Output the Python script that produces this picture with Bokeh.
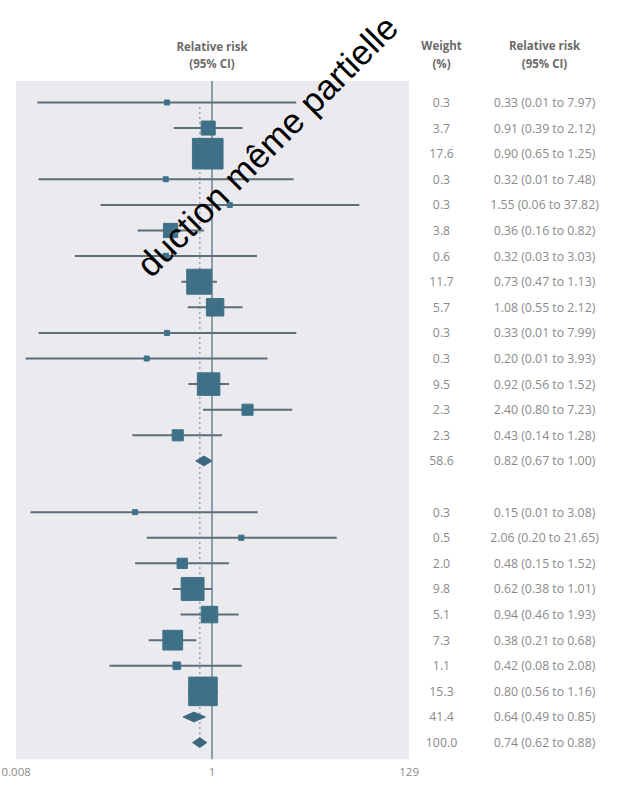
import math
from bokeh.plotting import figure
from bokeh.models import Range1d, FixedTicker, ColumnDataSource, LinearScale, CustomJSTickFormatter
from bokeh.core.properties import value
from bokeh.embed import file_html
from bokeh.resources import INLINE

# ---------------- data ----------------
group = [1] * 15 + [2] * 10
pooled = [False] * 14 + [True] + [False] * 8 + [True, True]
weights = [0.3, 3.7, 17.6, 0.3, 0.3, 3.8, 0.6, 11.7, 5.7, 0.3, 0.3, 9.5, 2.3, 2.3, 58.6,
           0.3, 0.5, 2.0, 9.8, 5.1, 7.3, 1.1, 15.3, 41.4, 100.0]
rr = [0.33, 0.91, 0.90, 0.32, 1.55, 0.36, 0.32, 0.73, 1.08, 0.33, 0.20, 0.92, 2.40, 0.43, 0.82,
      0.15, 2.06, 0.48, 0.62, 0.94, 0.38, 0.42, 0.80, 0.64, 0.74]
lo = [0.0135, 0.39, 0.65, 0.0139, 0.064, 0.16, 0.034, 0.47, 0.55, 0.0139, 0.0101, 0.56, 0.80, 0.14, 0.67,
      0.0114, 0.20, 0.15, 0.38, 0.46, 0.21, 0.08, 0.56, 0.49, 0.62]
hi = [7.97, 2.12, 1.25, 7.48, 37.82, 0.82, 3.03, 1.13, 2.12, 7.99, 3.93, 1.52, 7.23, 1.28, 1.00,
      3.08, 21.65, 1.52, 1.01, 1.93, 0.68, 2.08, 1.16, 0.85, 0.88]
x_ticks = [0.008, 1, 129]
header_plot = ["Relative risk", "(95% CI)"]
header_weight = ["Weight", "(%)"]
header_rr = ["Relative risk", "(95% CI)"]
watermark = "duction même partielle"

# ---------------- layout constants ----------------
W, H = 613, 778
BOTTOM = 15
ONE_PX = 211.5          # canvas x of RR = 1
PX_DEC = 93.4           # pixels per decade
ROW_PX = 25.74
ROW0_PX = 102.5         # canvas y of first row
FRAME_H = H - BOTTOM
PANEL_TOP_PX = 81

def slot_of_px(py):
    return (py - ROW0_PX) / ROW_PX

x_start = 10 ** (-ONE_PX / PX_DEC)
x_end = 10 ** ((W - ONE_PX) / PX_DEC)
y_top = slot_of_px(0)
y_bot = slot_of_px(FRAME_H)
panel_top = slot_of_px(PANEL_TOP_PX)

slots = [i + (g - 1) for i, g in enumerate(group)]

PANEL = "#ebebef"
BOX = "#3e7188"
CI = "#5e6e78"
TXT = "#8a8a8a"
HDR = "#6a6a6a"
FONT = "Open Sans"

p = figure(width=W, height=H, x_axis_type="log", output_backend="svg", toolbar_location=None,
           x_range=Range1d(x_start, x_end), y_range=Range1d(y_bot, y_top),
           y_axis_location=None, min_border=0, min_border_bottom=BOTTOM)
p.extra_x_ranges = {"tab": Range1d(0, W)}
p.extra_x_scales = {"tab": LinearScale()}
p.grid.visible = False
p.outline_line_color = None
p.background_fill_color = "white"
p.border_fill_color = "white"

# panel
p.quad(left=[x_ticks[0]], right=[x_ticks[-1]], top=[panel_top], bottom=[y_bot],
       fill_color=PANEL, line_color=None)

# reference line at 1
p.segment(x0=[1], x1=[1], y0=[panel_top], y1=[y_bot], line_color="#4f6878", line_width=1.2)

# dotted line at overall estimate
overall = len(rr) - 1
p.segment(x0=[rr[overall]], x1=[rr[overall]], y0=[0.18], y1=[slots[overall]],
          line_color="#93a9b6", line_width=1.5, line_dash="2 3")

# study CIs and boxes
st = [i for i in range(len(rr)) if not pooled[i]]
src = ColumnDataSource(dict(
    x=[rr[i] for i in st], y=[slots[i] for i in st],
    lo=[lo[i] for i in st], hi=[hi[i] for i in st],
    size=[max(5.0, 7.3 * math.sqrt(weights[i])) for i in st]))
p.segment(x0="lo", x1="hi", y0="y", y1="y", source=src, line_color=CI, line_width=2)
p.scatter(x="x", y="y", size="size", marker="square", source=src,
          fill_color=BOX, line_color=BOX)

# pooled diamonds
pl = [i for i in range(len(rr)) if pooled[i]]
h = 0.19
p.patches(xs=[[lo[i], rr[i], hi[i], rr[i]] for i in pl],
          ys=[[slots[i], slots[i] - h, slots[i], slots[i] + h] for i in pl],
          fill_color="#3b687f", line_color="#3b687f")

# header above plot
p.text(x=[1, 1], y=[slot_of_px(46), slot_of_px(63)], text=header_plot,
       text_font=value(FONT), text_font_size="11.5px", text_font_style="bold",
       text_color=HDR, text_align="center", text_baseline="middle")

# right table
WX, RX = 441, 544
p.text(x=[WX, WX], y=[slot_of_px(45), slot_of_px(63)], text=header_weight, x_range_name="tab",
       text_font=value(FONT), text_font_size="11.5px", text_font_style="bold",
       text_color=HDR, text_align="center", text_baseline="middle")
p.text(x=[RX, RX], y=[slot_of_px(45), slot_of_px(63)], text=header_rr, x_range_name="tab",
       text_font=value(FONT), text_font_size="11.5px", text_font_style="bold",
       text_color=HDR, text_align="center", text_baseline="middle")

tsrc = ColumnDataSource(dict(
    y=slots,
    wx=[WX] * len(rr), rx=[RX] * len(rr),
    w=["%.1f" % w for w in weights],
    r=["%.2f (%.2f to %.2f)" % (a, b, c) for a, b, c in zip(rr, lo, hi)]))
p.text(x="wx", y="y", text="w", source=tsrc, x_range_name="tab",
       text_font=value(FONT), text_font_size="12.3px", text_color=TXT,
       text_align="center", text_baseline="middle")
p.text(x="rx", y="y", text="r", source=tsrc, x_range_name="tab",
       text_font=value(FONT), text_font_size="12.3px", text_color=TXT,
       text_align="center", text_baseline="middle")

# watermark
p.text(x=[142], y=[slot_of_px(271)], text=[watermark], x_range_name="tab",
       angle=math.pi / 4, text_font=value("Liberation Sans"), text_font_size="35px",
       text_color="black", text_align="left", text_baseline="alphabetic")

# x axis
ax = p.xaxis[0]
ax.ticker = FixedTicker(ticks=x_ticks)
ax.formatter = CustomJSTickFormatter(code="return String(tick);")
ax.axis_line_color = None
ax.major_tick_line_color = None
ax.minor_tick_line_color = None
ax.major_label_standoff = 2
ax.major_label_text_font = FONT
ax.major_label_text_font_size = "11.5px"
ax.major_label_text_color = TXT

open("out.html", "w").write(file_html(p, INLINE))
